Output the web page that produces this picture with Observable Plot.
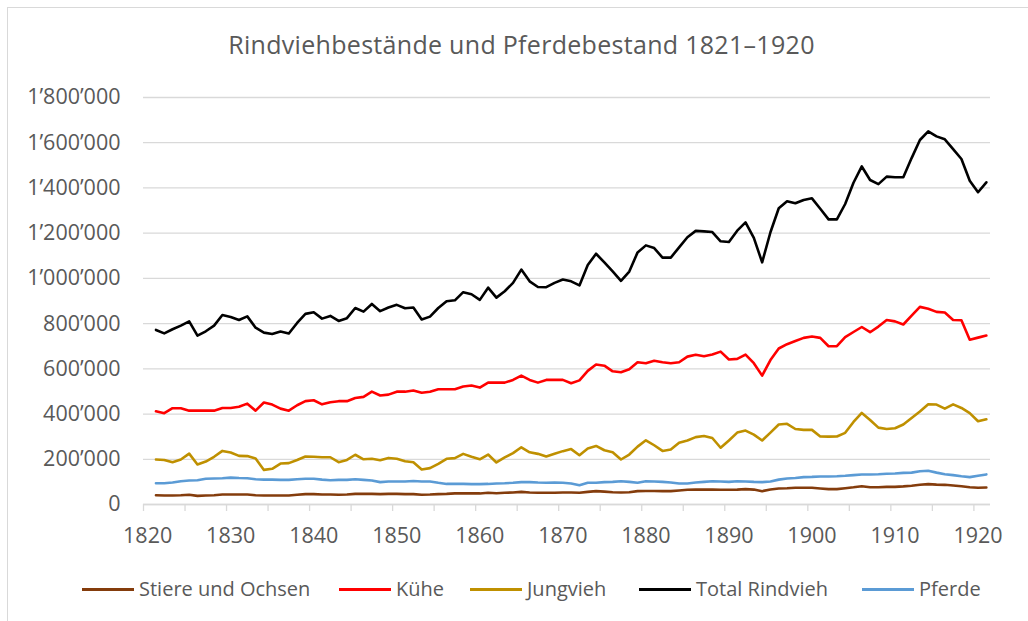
<!DOCTYPE html>
<html><head><meta charset="utf-8">
<script src="https://cdn.jsdelivr.net/npm/d3@7"></script>
<script src="https://cdn.jsdelivr.net/npm/@observablehq/plot@0.6"></script>
<style>
body{margin:0;background:#fff;font-family:"Open Sans",Lato,sans-serif;}
#wrap{position:relative;width:1028px;height:621px;overflow:hidden;background:#fff;}
#border{position:absolute;left:7px;top:7px;width:1100px;height:700px;border-left:1px solid #d9d9d9;border-top:1px solid #d9d9d9;}
#title{position:absolute;left:0;top:27px;width:1043px;text-align:center;font-size:25px;letter-spacing:0.3px;font-weight:400;color:#595959;white-space:nowrap;line-height:normal;}
#chart{position:absolute;left:0;top:80px;}
.li{position:absolute;top:577px;height:24px;display:flex;align-items:center;font-size:20px;color:#595959;white-space:nowrap;line-height:24px;}
.sw{width:52px;height:3px;margin-right:5px;}
</style>
</head><body>
<div id="wrap">
<div id="border"></div>
<div id="title">Rindviehbestände und Pferdebestand 1821–1920</div>
<div id="chart"></div>
<div id="legend"></div>
</div>
<script>
// Years 1821–1921
const years = d3.range(1821, 1922);
// values in thousands
const stiere = [41,40,40,41,43,38,40,41,44,44, 44,44,41,40,40,40,40,43,46,46, 44,44,43,44,47,47,47,46,47,47, 46,46,43,44,46,47,49,49,50,49, 52,50,52,53,56,53,52,52,52,53, 53,52,56,59,57,54,53,54,59,60, 60,59,59,62,65,66,66,66,65,65, 66,68,66,59,66,71,72,74,74,74, 71,68,68,72,76,81,76,76,78,78, 80,83,87,90,88,87,84,81,76,74, 75];
const kuehe = [412,404,426,426,415,415,415,415,427,427, 432,446,415,451,442,424,415,439,457,461, 443,452,457,457,471,476,499,482,486,499, 499,504,494,499,510,510,510,522,526,517, 539,539,539,551,570,551,539,551,551,551, 536,549,591,619,614,589,585,598,629,625, 636,629,625,629,654,662,656,663,676,641, 644,663,625,570,639,690,709,723,737,743, 737,700,700,740,763,785,762,787,816,810, 796,835,874,866,852,849,816,815,729,738, 747];
const jungvieh = [199,197,187,199,225,177,190,211,237,230, 215,214,203,153,158,181,183,197,212,211, 209,209,187,197,220,200,202,196,206,202, 191,187,155,161,180,202,205,224,211,200, 221,186,208,227,253,231,224,212,224,236, 245,218,248,259,240,231,199,221,256,284, 262,237,243,273,283,298,303,294,251,283, 318,327,309,283,318,354,357,334,330,330, 301,300,301,317,365,405,374,340,334,337, 354,383,411,443,442,424,443,427,404,368, 377];
const total = [772,757,775,791,810,747,766,791,838,829, 816,832,782,760,754,765,756,803,843,850, 822,834,812,824,869,853,887,855,871,883, 868,871,818,831,869,899,903,939,930,905, 959,915,943,980,1039,987,962,961,980,995, 987,969,1059,1109,1071,1031,989,1030,1115,1146, 1134,1092,1092,1137,1182,1210,1208,1205,1164,1161, 1211,1248,1179,1071,1204,1310,1341,1332,1347,1354, 1308,1261,1261,1329,1423,1495,1435,1417,1450,1447, 1447,1532,1612,1650,1628,1615,1572,1528,1432,1381, 1425];
const pferde = [94,94,97,103,106,107,114,115,116,119, 117,116,112,110,110,109,109,112,114,114, 110,107,109,109,112,109,106,99,102,102, 102,104,102,102,96,91,91,91,90,90, 91,93,94,96,99,99,97,96,97,96, 93,85,96,96,99,100,103,100,96,103, 102,100,97,93,93,97,100,103,102,100, 103,102,100,99,102,110,115,117,121,122, 124,124,125,127,130,133,133,134,136,137, 140,141,147,149,141,134,130,125,121,127, 133];

const seriesNames = ["Stiere und Ochsen","Kühe","Jungvieh","Total Rindvieh","Pferde"];
const seriesColors = ["#843C0C","#FF0000","#BF9000","#000000","#5B9BD5"];
const seriesValues = [stiere, kuehe, jungvieh, total, pferde];

const yTicks = [0,200000,400000,600000,800000,1000000,1200000,1400000,1600000,1800000];
const xLabels = [1820,1830,1840,1850,1860,1870,1880,1890,1900,1910,1920];
const xTickMarks = [1819.5,1824.5,1829.5,1834.5,1839.5,1844.5,1849.5,1854.5,1859.5,1864.5,1869.5,1874.5,1879.5,1884.5,1889.5,1894.5,1899.5,1904.5,1909.5,1914.5,1919.5];

const data = [];
seriesValues.forEach((arr, s) => arr.forEach((v, i) => data.push({year: years[i], value: v * 1000, series: seriesNames[s]})));

const fmt = d3.formatLocale({decimal: ".", thousands: "’", grouping: [3], currency: ["", ""]}).format(",");

const plot = Plot.plot({
  width: 1028,
  height: 474,
  marginLeft: 143,
  marginRight: 38,
  marginTop: 17,
  marginBottom: 50,
  style: {fontFamily: "'Open Sans', Lato, sans-serif", fontSize: "21.5px", color: "#595959", background: "transparent", overflow: "visible"},
  x: {domain: [1819.5, 1921.5]},
  y: {domain: [0, 1800000]},
  color: {domain: seriesNames, range: seriesColors},
  marks: [
    Plot.gridY(yTicks, {stroke: "#d9d9d9", strokeOpacity: 1, strokeWidth: 1.3}),
    Plot.ruleY([0], {stroke: "#d9d9d9", strokeWidth: 1.3}),
    Plot.axisY(yTicks, {tickSize: 0, tickPadding: 23, tickFormat: fmt, label: null}),
    Plot.axisX(xTickMarks, {tickSize: 7, tickFormat: () => "", stroke: "#d9d9d9", strokeWidth: 1.3, label: null}),
    Plot.axisX(xLabels, {tickSize: 0, tickPadding: 23, tickFormat: d => String(d), label: null}),
    Plot.lineY(data, {x: "year", y: "value", z: "series", stroke: "series", strokeWidth: 2.6, strokeLinejoin: "round", strokeLinecap: "round"})
  ]
});
document.getElementById("chart").appendChild(plot);

const legendLefts = [82, 339, 470, 639, 862];
const legend = document.getElementById("legend");
seriesNames.forEach((name, i) => {
  const item = document.createElement("div");
  item.className = "li";
  item.style.left = legendLefts[i] + "px";
  const sw = document.createElement("span");
  sw.className = "sw";
  sw.style.background = seriesColors[i];
  const tx = document.createElement("span");
  tx.textContent = name;
  item.appendChild(sw); item.appendChild(tx);
  legend.appendChild(item);
});
</script>
</body></html>
